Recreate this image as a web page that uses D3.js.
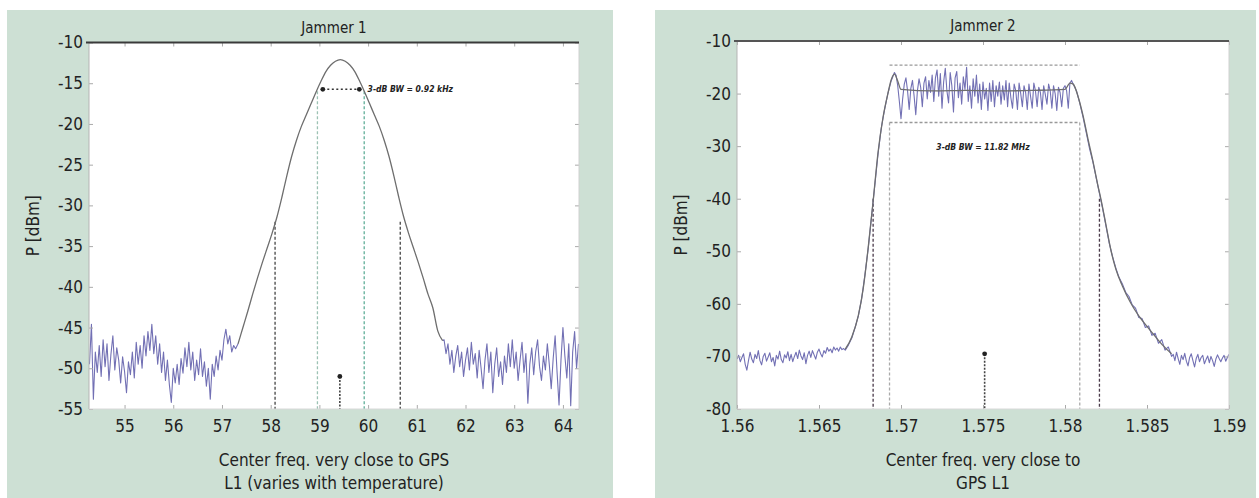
<!DOCTYPE html>
<html>
<head>
<meta charset="utf-8">
<script src="https://cdn.jsdelivr.net/npm/d3@7"></script>
<style>
  body { margin: 0; background: #fff; }
  svg text { font-family: "DejaVu Sans Condensed", "Liberation Sans Narrow", sans-serif; fill: #222; }
</style>
</head>
<body>
<svg id="chart" width="1259" height="498"></svg>
<script>
const svg = d3.select("#chart");

// ---- Jammer 1 (kHz offset axis) ----
const jam1XTicks = [55, 56, 57, 58, 59, 60, 61, 62, 63, 64];
const jam1YTicks = [-10, -15, -20, -25, -30, -35, -40, -45, -50, -55];

// noise floor left of the lobe, sampled every 0.04 from 54.28
const jam1NoiseLeftStart = 54.28;
const jam1NoiseLeft = [
  -49.5, -44.6, -53.8, -48.0, -50.5, -47.2, -51.0, -46.5, -49.8, -47.0,
  -51.5, -48.3, -46.0, -50.2, -47.5, -49.0, -51.8, -48.6, -50.4, -53.0,
  -49.2, -50.8, -48.0, -51.2, -46.8, -49.5, -47.2, -50.0, -46.0, -48.5,
  -45.5, -47.8, -44.6, -48.2, -46.0, -49.5, -47.0, -50.5, -48.0, -51.5,
  -49.0, -52.0, -54.2, -50.0, -51.8, -49.5, -52.0, -48.8, -50.6, -47.5,
  -49.8, -46.8, -50.2, -48.0, -51.5, -49.0, -50.8, -47.6, -51.0, -49.2,
  -52.2, -50.0, -53.8, -49.5, -51.0, -48.5, -50.2, -47.8, -49.0, -46.5,
  -45.2, -47.0, -46.0, -48.0, -47.2, -47.6
];

// noise floor right of the lobe, sampled every 0.04 from 61.56
const jam1NoiseRightStart = 61.56;
const jam1NoiseRight = [
  -46.5, -48.2, -47.0, -49.5, -47.8, -50.5, -48.5, -47.2, -49.8, -48.0,
  -51.0, -49.0, -47.5, -50.2, -46.8, -49.5, -48.2, -51.2, -47.8, -50.0,
  -52.5, -49.0, -47.0, -50.5, -48.0, -53.0, -49.5, -47.5, -51.0, -49.2,
  -52.0, -48.5, -50.5, -47.0, -49.8, -46.5, -50.0, -48.0, -51.5, -49.0,
  -46.8, -50.5, -48.2, -54.3, -49.5, -47.5, -50.8, -48.0, -46.5, -49.8,
  -51.5, -48.5, -50.2, -47.0, -49.5, -52.5, -48.8, -46.0, -50.5, -54.5,
  -49.0, -45.0, -48.5, -51.2, -47.0, -54.6, -48.0, -45.5, -50.0, -47.0
];

// main lobe [freq, dBm]
const jam1Lobe = [
  [57.33, -47.0], [57.43, -45.0], [57.53, -43.0], [57.63, -40.9], [57.73, -38.9],
  [57.83, -37.0], [57.93, -35.2], [58.03, -33.4], [58.13, -31.4], [58.23, -29.0],
  [58.33, -26.4], [58.43, -24.0], [58.53, -22.0], [58.63, -20.3], [58.73, -18.9],
  [58.83, -17.5], [58.93, -16.1], [59.03, -14.8], [59.13, -13.6], [59.23, -12.8],
  [59.33, -12.3], [59.43, -12.1], [59.53, -12.3], [59.63, -12.8], [59.73, -13.6],
  [59.83, -14.8], [59.93, -16.1], [60.03, -17.5], [60.13, -18.9], [60.23, -20.3],
  [60.33, -22.0], [60.43, -24.0], [60.53, -26.4], [60.63, -29.0], [60.73, -31.4],
  [60.83, -33.4], [60.93, -35.2], [61.03, -37.0], [61.13, -38.9], [61.23, -40.9],
  [61.33, -42.6], [61.43, -45.4], [61.53, -46.6]
];

// ---- Jammer 2 (GHz axis) ----
const jam2XTicks = [1.56, 1.565, 1.57, 1.575, 1.58, 1.585, 1.59];
const jam2YTicks = [-10, -20, -30, -40, -50, -60, -70, -80];

const jam2NoiseLeftStart = 1.5600;
const jam2NoiseLeft = [
  -70.5, -69.8, -71.0, -70.2, -69.5, -71.5, -72.6, -70.8, -69.2, -70.5,
  -71.2, -69.6, -70.4, -68.9, -70.8, -71.6, -70.0, -69.4, -70.9, -70.1,
  -69.3, -71.0, -70.2, -71.8, -69.8, -70.5, -69.0, -70.6, -71.2, -69.7,
  -70.3, -69.1, -70.8, -69.6, -71.0, -70.0, -69.2, -70.4, -68.8, -69.9,
  -70.6, -69.3, -71.4, -69.8, -69.0, -70.2, -68.9, -69.7, -70.5, -69.2,
  -68.6, -69.5, -70.1, -68.9, -69.4, -68.3, -69.0, -68.6, -69.3, -68.2,
  -68.8, -68.4, -69.0, -68.2, -68.7, -68.5
];

const jam2Rise = [
  [1.5666, -68.8], [1.5668, -67.8], [1.5670, -66.5], [1.5672, -64.5], [1.5674, -62.3],
  [1.5676, -59.0], [1.5678, -54.5], [1.5680, -49.5], [1.5682, -43.5], [1.5684, -37.5],
  [1.5686, -31.5], [1.5688, -26.5], [1.5690, -23.0], [1.5692, -20.0], [1.5694, -17.6]
];

// ripple across the pass band, sampled every 0.0001 from 1.5695
const jam2TopStart = 1.5695;
const jam2Top = [
  -16.8, -16.0, -16.5, -18.5, -21.5, -24.8, -21.0, -18.2, -17.0, -19.5,
  -23.0, -19.0, -17.5, -20.5, -24.0, -19.5, -17.2, -18.8, -22.5, -18.0,
  -16.8, -21.0, -17.5, -19.8, -16.5, -21.5, -17.0, -15.5, -20.5, -16.2,
  -22.8, -17.8, -15.2, -19.5, -21.8, -16.0, -18.5, -23.5, -17.0, -15.8,
  -20.8, -18.0, -22.0, -16.8, -19.2, -15.0, -21.5, -18.5, -22.8, -17.2,
  -20.5, -16.5, -21.8, -18.2, -23.0, -17.8, -21.0, -19.0, -23.2, -18.0,
  -21.5, -17.5, -22.5, -18.5, -20.5, -17.8, -22.0, -18.5, -21.2, -17.5,
  -22.5, -18.0, -20.8, -22.8, -18.2, -19.5, -23.0, -18.0, -20.0, -22.5,
  -18.5, -19.8, -23.0, -18.2, -20.5, -22.8, -18.0, -19.5, -22.5, -18.8,
  -19.8, -23.0, -18.5, -20.2, -22.0, -18.2, -19.5, -22.8, -18.5, -20.0,
  -23.2, -18.8, -19.8, -22.5, -19.0, -18.5, -19.5, -22.8, -18.0, -17.5,
  -18.2
];

const jam2Fall = [
  [1.5807, -19.5], [1.5809, -21.8], [1.5811, -24.5], [1.5813, -27.5], [1.5815, -30.5],
  [1.5817, -33.0], [1.5819, -36.0], [1.5821, -39.0], [1.5823, -42.0], [1.5825, -45.2],
  [1.5827, -48.5], [1.5829, -51.0], [1.5831, -53.2], [1.5833, -55.0], [1.5835, -56.2],
  [1.5837, -57.8], [1.5839, -58.6], [1.5841, -60.2], [1.5843, -60.8], [1.5845, -62.6],
  [1.5847, -62.8], [1.5849, -64.5], [1.5851, -64.2], [1.5853, -66.0], [1.5855, -65.6],
  [1.5857, -67.5], [1.5859, -66.8], [1.5861, -68.8], [1.5863, -68.2], [1.5865, -70.0]
];

const jam2NoiseRightStart = 1.5866;
const jam2NoiseRight = [
  -69.6, -70.8, -69.2, -70.4, -71.5, -69.8, -70.6, -69.4, -70.9, -71.8,
  -70.2, -69.5, -70.8, -72.0, -70.4, -69.6, -71.0, -70.2, -69.8, -71.4,
  -70.6, -69.9, -71.2, -70.0, -70.8, -71.9, -70.5, -69.7, -70.4, -71.0,
  -70.3, -69.8, -70.9, -70.2, -69.6
];

// smoothed envelope drawn in grey over the trace
const jam2Envelope = [
  [1.5666, -68.6], [1.5670, -66.3], [1.5674, -62.2], [1.5677, -57.0], [1.5680, -49.3],
  [1.5683, -40.5], [1.5686, -31.2], [1.5689, -24.6], [1.5692, -20.0], [1.5694, -17.4],
  [1.5696, -16.3], [1.5698, -17.6], [1.5700, -19.2], [1.5720, -19.5], [1.5740, -19.4],
  [1.5760, -19.5], [1.5780, -19.4], [1.5800, -19.2], [1.5803, -18.0], [1.5805, -18.2],
  [1.5808, -20.6], [1.5811, -24.2], [1.5814, -28.6], [1.5817, -32.8], [1.5820, -37.4],
  [1.5822, -40.2], [1.5825, -45.0], [1.5828, -49.8], [1.5831, -53.4], [1.5835, -56.6],
  [1.5840, -59.8], [1.5845, -62.3], [1.5850, -64.3], [1.5855, -66.2], [1.5860, -68.0],
  [1.5865, -69.5]
];

function sampled(start, step, values) {
  return values.map((v, i) => [start + i * step, v]);
}

function drawPanel(cfg) {
  const g = svg.append("g");

  g.append("rect")
    .attr("x", cfg.bg[0]).attr("y", cfg.bg[1])
    .attr("width", cfg.bg[2]).attr("height", cfg.bg[3])
    .attr("fill", "#cde0d4");

  const x = d3.scaleLinear().domain(cfg.xDomain).range([cfg.left, cfg.right]);
  const y = d3.scaleLinear().domain(cfg.yDomain).range([cfg.bottom, cfg.top]);

  g.append("rect")
    .attr("x", cfg.left).attr("y", cfg.top)
    .attr("width", cfg.right - cfg.left).attr("height", cfg.bottom - cfg.top)
    .attr("fill", "#fff");

  const clipId = "clip-" + cfg.id;
  g.append("clipPath").attr("id", clipId).append("rect")
    .attr("x", cfg.left).attr("y", cfg.top)
    .attr("width", cfg.right - cfg.left).attr("height", cfg.bottom - cfg.top);

  const plot = g.append("g").attr("clip-path", `url(#${clipId})`);

  // axes with inward ticks
  const bottomAxis = g.append("g")
    .attr("transform", `translate(0,${cfg.bottom})`)
    .call(d3.axisBottom(x).tickValues(cfg.xTicks).tickSize(-4).tickPadding(11)
      .tickFormat(cfg.xFormat));
  const leftAxis = g.append("g")
    .attr("transform", `translate(${cfg.left},0)`)
    .call(d3.axisLeft(y).tickValues(cfg.yTicks).tickSize(-4).tickPadding(6)
      .tickFormat(d => String(d)));
  const topAxis = g.append("g")
    .attr("transform", `translate(0,${cfg.top})`)
    .call(d3.axisTop(x).tickValues(cfg.xTicks).tickSize(-4).tickFormat(""));
  const rightAxis = g.append("g")
    .attr("transform", `translate(${cfg.right},0)`)
    .call(d3.axisRight(y).tickValues(cfg.yTicks).tickSize(-4).tickFormat(""));

  [bottomAxis, leftAxis, topAxis, rightAxis].forEach(a => {
    a.select(".domain").remove();
    a.selectAll(".tick line").attr("stroke", "#aaa");
    a.selectAll(".tick text")
      .attr("font-size", "17px")
      .attr("fill", "#222")
      .style("font-family", '"DejaVu Sans Condensed", sans-serif');
  });

  // frame
  g.append("line").attr("x1", cfg.left).attr("x2", cfg.left)
    .attr("y1", cfg.top).attr("y2", cfg.bottom).attr("stroke", "#b5b5b5");
  g.append("line").attr("x1", cfg.left).attr("x2", cfg.right)
    .attr("y1", cfg.bottom).attr("y2", cfg.bottom).attr("stroke", "#d8d8d8");
  g.append("line").attr("x1", cfg.right).attr("x2", cfg.right)
    .attr("y1", cfg.top).attr("y2", cfg.bottom).attr("stroke", "#d0d0d0");
  g.append("line").attr("x1", cfg.left - 3).attr("x2", cfg.right)
    .attr("y1", cfg.top).attr("y2", cfg.top)
    .attr("stroke", cfg.topColor).attr("stroke-width", 1.8);

  const line = d3.line().x(d => x(d[0])).y(d => y(d[1]));
  const smooth = d3.line().x(d => x(d[0])).y(d => y(d[1])).curve(d3.curveMonotoneX);

  // reference lines
  cfg.vlines.forEach(v => {
    plot.append("line")
      .attr("x1", x(v.f)).attr("x2", x(v.f))
      .attr("y1", y(v.from)).attr("y2", y(cfg.yDomain[0]))
      .attr("stroke", v.color).attr("stroke-width", v.width || 1.3)
      .attr("stroke-dasharray", v.dash || "3,2");
  });
  cfg.hlines.forEach(h => {
    plot.append("line")
      .attr("x1", x(h.f0)).attr("x2", x(h.f1))
      .attr("y1", y(h.p)).attr("y2", y(h.p))
      .attr("stroke", h.color).attr("stroke-width", h.width || 1.3)
      .attr("stroke-dasharray", h.dash || "3,2");
  });

  // traces
  cfg.traces.forEach(t => {
    plot.append("path")
      .datum(t.data)
      .attr("fill", "none")
      .attr("stroke", t.color)
      .attr("stroke-width", t.width)
      .attr("stroke-linejoin", "round")
      .attr("d", t.smooth ? smooth : line);
  });

  // markers
  cfg.dots.forEach(d => {
    plot.append("circle")
      .attr("cx", x(d.f)).attr("cy", y(d.p)).attr("r", 2.4)
      .attr("fill", "#222");
  });

  // bandwidth note
  g.append("text")
    .attr("x", x(cfg.note.f)).attr("y", y(cfg.note.p))
    .attr("dy", "0.35em")
    .attr("text-anchor", cfg.note.anchor)
    .attr("font-size", "8.5px")
    .attr("font-weight", "bold")
    .attr("font-style", "italic")
    .attr("fill", "#333")
    .text(cfg.note.text);

  // titles
  const cx = (cfg.left + cfg.right) / 2;
  g.append("text")
    .attr("x", cx).attr("y", cfg.top - 10)
    .attr("text-anchor", "middle")
    .attr("font-size", "15px")
    .text(cfg.title);

  g.append("text")
    .attr("transform", `translate(${cfg.left - 50},${(cfg.top + cfg.bottom) / 2}) rotate(-90)`)
    .attr("text-anchor", "middle")
    .attr("font-size", "17px")
    .text("P [dBm]");

  cfg.xLabel.forEach((txt, i) => {
    g.append("text")
      .attr("x", cx).attr("y", cfg.bottom + 57 + i * 23)
      .attr("text-anchor", "middle")
      .attr("font-size", "17px")
      .text(txt);
  });
}

const blue = "#7270b4";
const grey = "#6e6e6e";

drawPanel({
  id: "j1",
  bg: [7, 10, 606, 488],
  left: 89, right: 579, top: 42.5, bottom: 409,
  xDomain: [54.27, 64.33], yDomain: [-55, -10],
  xTicks: jam1XTicks, yTicks: jam1YTicks,
  xFormat: d => String(d),
  topColor: "#3a3a3a",
  title: "Jammer 1",
  xLabel: ["Center freq. very close to GPS", "L1 (varies with temperature)"],
  traces: [
    { data: sampled(jam1NoiseLeftStart, 0.04, jam1NoiseLeft).concat([jam1Lobe[0]]), color: blue, width: 1.1 },
    { data: [jam1Lobe[jam1Lobe.length - 1]].concat(sampled(jam1NoiseRightStart, 0.04, jam1NoiseRight)), color: blue, width: 1.1 },
    { data: jam1Lobe, color: grey, width: 1.3, smooth: true }
  ],
  vlines: [
    { f: 58.96, from: -16.0, color: "#9cc2b4" },
    { f: 59.92, from: -16.0, color: "#5fae98" },
    { f: 58.09, from: -32.0, color: "#444" },
    { f: 60.66, from: -32.0, color: "#444" },
    { f: 59.42, from: -51.0, color: "#444", dash: "2,1.5", width: 1.6 }
  ],
  hlines: [
    { f0: 59.07, f1: 59.82, p: -15.75, color: "#333", dash: "2,2.5", width: 1.5 }
  ],
  dots: [
    { f: 59.07, p: -15.75 },
    { f: 59.82, p: -15.75 },
    { f: 59.42, p: -51.0 }
  ],
  note: { f: 59.99, p: -15.75, anchor: "start", text: "3-dB BW = 0.92 kHz" }
});

drawPanel({
  id: "j2",
  bg: [655, 10, 601, 488],
  left: 737, right: 1229, top: 41, bottom: 409,
  xDomain: [1.56, 1.59], yDomain: [-80, -10],
  xTicks: jam2XTicks, yTicks: jam2YTicks,
  xFormat: d => String(+d.toFixed(3)),
  topColor: "#555",
  title: "Jammer 2",
  xLabel: ["Center freq. very close to", "GPS L1"],
  traces: [
    {
      data: sampled(jam2NoiseLeftStart, 0.0001, jam2NoiseLeft)
        .concat(jam2Rise)
        .concat(sampled(jam2TopStart, 0.0001, jam2Top))
        .concat(jam2Fall)
        .concat(sampled(jam2NoiseRightStart, 0.0001, jam2NoiseRight)),
      color: blue, width: 1.1
    },
    { data: jam2Envelope, color: grey, width: 1.3, smooth: true }
  ],
  vlines: [
    { f: 1.5693, from: -25.5, color: "#aaa" },
    { f: 1.5809, from: -25.5, color: "#aaa" },
    { f: 1.5683, from: -40.0, color: "#4a3a4a" },
    { f: 1.5821, from: -40.0, color: "#4a3a4a" },
    { f: 1.5751, from: -69.5, color: "#444", dash: "2,1.5", width: 1.6 }
  ],
  hlines: [
    { f0: 1.5693, f1: 1.5809, p: -14.6, color: "#999" },
    { f0: 1.5693, f1: 1.5809, p: -25.5, color: "#999" }
  ],
  dots: [
    { f: 1.5751, p: -69.5 }
  ],
  note: { f: 1.5750, p: -30.2, anchor: "middle", text: "3-dB BW = 11.82 MHz" }
});
</script>
</body>
</html>
